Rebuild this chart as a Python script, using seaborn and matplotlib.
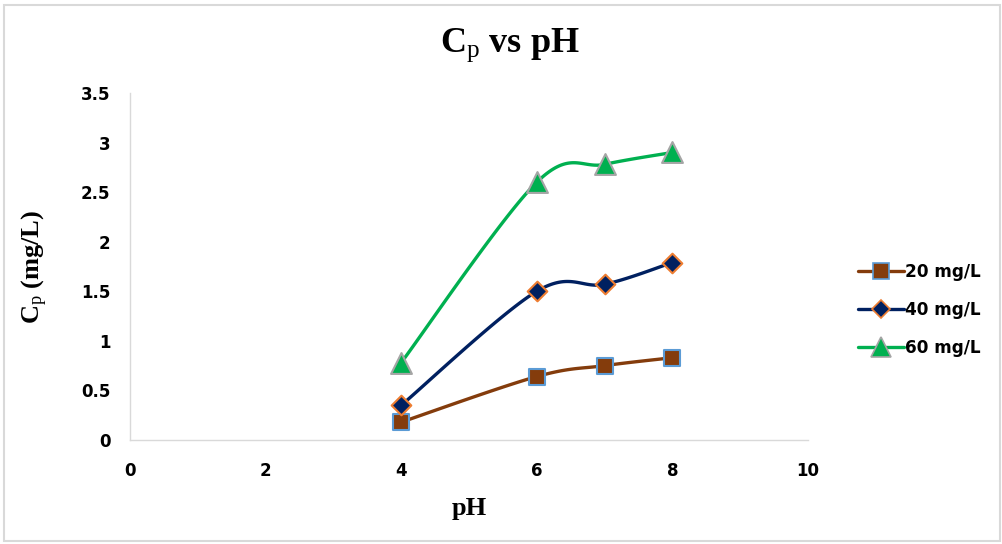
import numpy as np
import pandas as pd
import matplotlib
matplotlib.use("Agg")
import matplotlib.pyplot as plt
from matplotlib.lines import Line2D
from matplotlib.patches import Rectangle
import seaborn as sns

# Data
ph = [4, 6, 7, 8]
cp_20 = [0.18, 0.64, 0.75, 0.83]
cp_40 = [0.35, 1.50, 1.57, 1.79]
cp_60 = [0.78, 2.60, 2.78, 2.90]
series_names = ["20 mg/L", "40 mg/L", "60 mg/L"]
x_ticks = [0, 2, 4, 6, 8, 10]
y_ticks = [0, 0.5, 1, 1.5, 2, 2.5, 3, 3.5]

line_colors = ["#843C0C", "#002060", "#00B050"]
marker_faces = ["#843C0C", "#002060", "#00B050"]
marker_edges = ["#5B9BD5", "#ED7D31", "#A5A5A5"]
markers = ["s", "D", "^"]
marker_sizes = [12, 10, 15]


def smooth_curve(xs, ys, n=40):
    """Cubic Bezier smoothing through the points (Catmull-Rom style)."""
    xs = np.asarray(xs, float)
    ys = np.asarray(ys, float)
    px = np.concatenate([[xs[0]], xs, [xs[-1]]])
    py = np.concatenate([[ys[0]], ys, [ys[-1]]])
    out_x, out_y = [], []
    t = np.linspace(0, 1, n)
    for i in range(1, len(px) - 2):
        p0 = np.array([px[i], py[i]])
        p3 = np.array([px[i + 1], py[i + 1]])
        c1 = p0 + (np.array([px[i + 1], py[i + 1]]) - np.array([px[i - 1], py[i - 1]])) / 6
        c2 = p3 - (np.array([px[i + 2], py[i + 2]]) - np.array([px[i], py[i]])) / 6
        b = ((1 - t) ** 3)[:, None] * p0 + (3 * (1 - t) ** 2 * t)[:, None] * c1 \
            + (3 * (1 - t) * t ** 2)[:, None] * c2 + (t ** 3)[:, None] * p3
        out_x.extend(b[:, 0])
        out_y.extend(b[:, 1])
    return np.array(out_x), np.array(out_y)


sns.set_theme(style="white")
plt.rcParams["font.family"] = ["DejaVu Sans"]
plt.rcParams["text.color"] = "black"
plt.rcParams["xtick.color"] = "black"
plt.rcParams["ytick.color"] = "black"
plt.rcParams["axes.labelcolor"] = "black"
plt.rcParams["mathtext.fontset"] = "custom"
plt.rcParams["mathtext.rm"] = "Liberation Serif"
plt.rcParams["mathtext.bf"] = "Liberation Serif:bold"
plt.rcParams["mathtext.it"] = "Liberation Serif"

fig = plt.figure(figsize=(10.03, 5.44), dpi=100)
ax = fig.add_axes([0.1296, 0.1912, 0.6760, 0.6379])

handles = []
for i, (name, vals) in enumerate(zip(series_names, [cp_20, cp_40, cp_60])):
    sx, sy = smooth_curve(ph, vals)
    curve = pd.DataFrame({"pH": sx, "Cp": sy})
    sns.lineplot(data=curve, x="pH", y="Cp", ax=ax, color=line_colors[i],
                 linewidth=2.4, sort=False, estimator=None, zorder=2)
    pts = pd.DataFrame({"pH": ph, "Cp": vals})
    sns.scatterplot(data=pts, x="pH", y="Cp", ax=ax, marker=markers[i],
                    s=marker_sizes[i] ** 2, color=marker_faces[i],
                    edgecolor=marker_edges[i], linewidth=1.5, zorder=3)
    handles.append(Line2D([0], [0], color=line_colors[i], linewidth=2.4,
                          marker=markers[i], markersize=marker_sizes[i] * 0.95,
                          markerfacecolor=marker_faces[i],
                          markeredgecolor=marker_edges[i], markeredgewidth=1.2,
                          label=name))

ax.set_xlim(0, 10)
ax.set_ylim(0, 3.5)
ax.set_xticks(x_ticks)
ax.set_yticks(y_ticks)
ax.set_xticklabels([str(v) for v in x_ticks], fontsize=12, fontweight="bold")
ax.set_yticklabels([f"{v:g}" for v in y_ticks], fontsize=12, fontweight="bold")
ax.tick_params(axis="x", length=0, pad=16)
ax.tick_params(axis="y", length=0, pad=14)

for side in ["top", "right"]:
    ax.spines[side].set_visible(False)
for side in ["left", "bottom"]:
    ax.spines[side].set_color("#D9D9D9")
    ax.spines[side].set_linewidth(1.0)

ax.set_xlabel("pH", fontsize=19, fontweight="bold", family="Liberation Serif", labelpad=12)
ax.set_ylabel(r"C$_{\mathrm{p}}$ (mg/L)", fontsize=19, fontweight="bold",
              family="Liberation Serif", labelpad=22)

fig.text(0.508, 0.917, r"C$_{\mathrm{p}}$ vs pH", ha="center", va="center",
         fontsize=26, fontweight="bold", family="Liberation Serif")

leg = fig.legend(handles=handles, loc="center left", bbox_to_anchor=(0.840, 0.43),
                 frameon=False, handlelength=2.7, labelspacing=1.2,
                 handletextpad=0.1, prop={"family": "DejaVu Sans", "weight": "bold", "size": 12.2})

fig.patches.append(Rectangle((0.004, 0.006), 0.993, 0.984, transform=fig.transFigure,
                             fill=False, edgecolor="#D9D9D9", linewidth=1.5))

fig.savefig("out.png", dpi=100)
